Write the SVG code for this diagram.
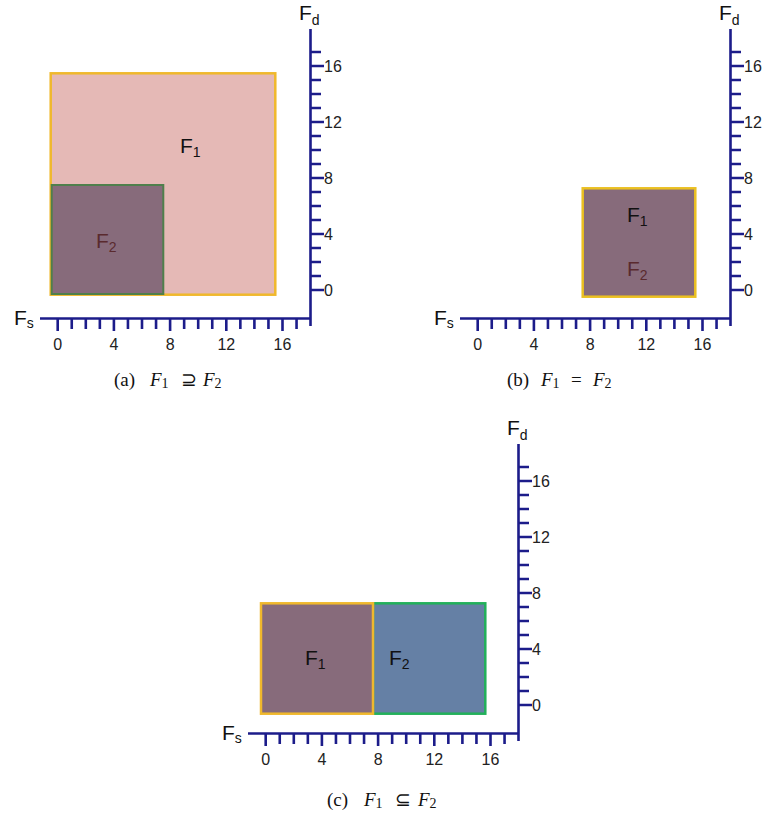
<svg xmlns="http://www.w3.org/2000/svg" xmlns:xlink="http://www.w3.org/1999/xlink" width="768" height="816" viewBox="0 0 768 816">
<style>
.ax{stroke:#1c1c8a;stroke-width:2.6;fill:none}
.tk{stroke:#1c1c8a;stroke-width:2.6}
.num{font-family:"Liberation Sans",Arial,sans-serif;font-size:16px;fill:#222}
.lab{font-family:"Liberation Sans",Arial,sans-serif;font-size:21px;fill:#111}
.sub{font-size:14px}
.f1{fill:#e5b9b6;stroke:#f0b82c;stroke-width:2.5}
.f2p{fill:#876b7b}
.cap{font-family:"Liberation Serif","Times New Roman",serif;font-size:19px;fill:#111}
.it{font-style:italic}
</style>
<defs>
<g id="axes">
  <line class="ax" x1="40" y1="318.5" x2="311" y2="318.5"/>
  <line class="ax" x1="310.5" y1="29" x2="310.5" y2="326"/>
  <path class="tk" d="M57.7 318v13M71.75 318v11M85.8 318v11M99.85 318v11M113.9 318v13M127.95 318v11M142 318v11M156.05 318v11M170.1 318v13M184.15 318v11M198.2 318v11M212.25 318v11M226.3 318v13M240.35 318v11M254.4 318v11M268.45 318v11M282.5 318v13M296.55 318v11"/>
  <path class="tk" d="M310 290h14M310 276h11M310 262h11M310 248h11M310 234h14M310 220h11M310 206h11M310 192h11M310 178h14M310 164h11M310 150h11M310 136h11M310 122h14M310 108h11M310 94h11M310 80h11M310 66h14M310 52h11"/>
  <g class="num" text-anchor="middle">
    <text x="57.7" y="350">0</text><text x="113.9" y="350">4</text><text x="170.1" y="350">8</text><text x="226.3" y="350">12</text><text x="282.5" y="350">16</text>
  </g>
  <g class="num">
    <text x="324" y="296">0</text><text x="324" y="240">4</text><text x="324" y="184">8</text><text x="324" y="128">12</text><text x="324" y="72">16</text>
  </g>
  <text class="lab" x="299" y="20">F<tspan class="sub" dy="5">d</tspan></text>
  <text class="lab" x="14" y="325">F<tspan class="sub" dy="3">s</tspan></text>
</g>
</defs>

<!-- Panel (a) -->
<g id="panel-a">
  <use xlink:href="#axes" href="#axes"/>
  <g id="a-F1">
    <rect class="f1" x="50.7" y="73.3" width="224.6" height="221.4"/>
    <text class="lab" x="180" y="153">F<tspan class="sub" dy="4">1</tspan></text>
  </g>
  <g id="a-F2">
    <rect class="f2p" x="51.7" y="185" width="111.6" height="109" stroke="#4f7f4c" stroke-width="2"/>
    <text class="lab" x="96" y="248" style="fill:#5a2a2e">F<tspan class="sub" dy="4">2</tspan></text>
  </g>
  <text class="cap" x="114" y="386">(a)</text>
  <text class="cap" x="150" y="386"><tspan class="it">F</tspan><tspan font-size="14" dy="2">1</tspan><tspan x="181" dy="-2">⊇</tspan><tspan class="it" x="203">F</tspan><tspan font-size="14" dy="2">2</tspan></text>
</g>

<!-- Panel (b) -->
<g id="panel-b">
  <use xlink:href="#axes" href="#axes" transform="translate(420,0)"/>
  <g id="b-F1F2">
    <rect x="582.7" y="188.3" width="112.6" height="108.4" fill="#876b7b" stroke="#ebc021" stroke-width="2.5"/>
    <text class="lab" x="627" y="222">F<tspan class="sub" dy="4">1</tspan></text>
    <text class="lab" x="627" y="276" style="fill:#5a2a2e">F<tspan class="sub" dy="4">2</tspan></text>
  </g>
  <text class="cap" x="507" y="386">(b)</text>
  <text class="cap" x="541" y="386"><tspan class="it">F</tspan><tspan font-size="14" dy="2">1</tspan><tspan x="571" dy="-2">=</tspan><tspan class="it" x="593">F</tspan><tspan font-size="14" dy="2">2</tspan></text>
</g>

<!-- Panel (c) -->
<g id="panel-c">
  <use xlink:href="#axes" href="#axes" transform="translate(208,415)"/>
  <g id="c-F2">
    <rect x="373" y="603.3" width="112.3" height="110.4" fill="#6580a5" stroke="#22b05a" stroke-width="2.5"/>
    <text class="lab" x="389" y="665">F<tspan class="sub" dy="4">2</tspan></text>
  </g>
  <g id="c-F1">
    <rect x="261" y="603.3" width="112" height="110.4" fill="#876b7b" stroke="#f0b82c" stroke-width="2.5"/>
    <text class="lab" x="305" y="665">F<tspan class="sub" dy="4">1</tspan></text>
  </g>
  <text class="cap" x="327" y="806">(c)</text>
  <text class="cap" x="364" y="806"><tspan class="it">F</tspan><tspan font-size="14" dy="2">1</tspan><tspan x="395" dy="-2">⊆</tspan><tspan class="it" x="418">F</tspan><tspan font-size="14" dy="2">2</tspan></text>
</g>
</svg>
